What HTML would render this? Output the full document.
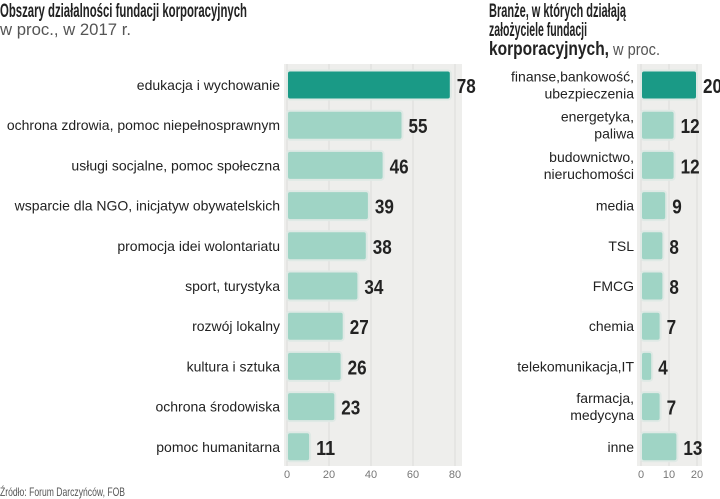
<!DOCTYPE html>
<html><head><meta charset="utf-8"><style>
html,body{margin:0;padding:0;background:#fff;}
svg{display:block;font-family:"Liberation Sans",sans-serif;}
</style></head><body>
<svg id="chart" width="720" height="499" viewBox="0 0 720 499">
<text x="0" y="17" font-size="19" font-weight="bold" fill="#222" textLength="247" lengthAdjust="spacingAndGlyphs">Obszary działalności fundacji korporacyjnych</text>
<text x="0" y="35" font-size="17" fill="#555" textLength="131" lengthAdjust="spacingAndGlyphs">w proc., w 2017 r.</text>
<text x="489" y="17" font-size="19" font-weight="bold" fill="#222" textLength="137" lengthAdjust="spacingAndGlyphs">Branże, w których działają</text>
<text x="489" y="36" font-size="19" font-weight="bold" fill="#222" textLength="98" lengthAdjust="spacingAndGlyphs">założyciele fundacji</text>
<text x="489" y="55" font-size="19" font-weight="bold" fill="#222" textLength="120" lengthAdjust="spacingAndGlyphs">korporacyjnych,</text>
<text x="613" y="55" font-size="17" fill="#555" textLength="47" lengthAdjust="spacingAndGlyphs">w proc.</text>
<g id="left"></g>
<g id="right"></g>
<text x="0" y="496" font-size="12" fill="#555" textLength="125" lengthAdjust="spacingAndGlyphs">Źródło: Forum Darczyńców, FOB</text>
</svg>
<script>
const leftCategories = ["edukacja i wychowanie","ochrona zdrowia, pomoc niepełnosprawnym","usługi socjalne, pomoc społeczna","wsparcie dla NGO, inicjatyw obywatelskich","promocja idei wolontariatu","sport, turystyka","rozwój lokalny","kultura i sztuka","ochrona środowiska","pomoc humanitarna"];
const leftValues = [78,55,46,39,38,34,27,26,23,11];
const leftTicks = [0,20,40,60,80];
const rightCategories = [["finanse,bankowość,","ubezpieczenia"],["energetyka,","paliwa"],["budownictwo,","nieruchomości"],["media"],["TSL"],["FMCG"],["chemia"],["telekomunikacja,IT"],["farmacja,","medycyna"],["inne"]];
const rightValues = [20,12,12,9,8,8,7,4,7,13];
const rightTicks = [0,10,20];
const NS="http://www.w3.org/2000/svg";
function mk(p,tag,attrs,txt){const e=document.createElementNS(NS,tag);for(const k in attrs)e.setAttribute(k,attrs[k]);if(txt!==undefined)e.textContent=txt;p.appendChild(e);return e;}
function draw(g,cats,vals,ticks,x0,x1,max,bgL,bgR,prefix){
  const sx=v=>x0+v*(x1-x0)/max;
  const top=64,rowH=40.2,bh=29;
  const bg=mk(g,"rect",{x:bgL,y:top,width:bgR-bgL,height:402,fill:"#eeeeec"});
  
  
  ticks.forEach(t=>{
    const l=mk(g,"line",{x1:sx(t),x2:sx(t),y1:top,y2:466,stroke:"#dcdcda","stroke-width":1});
    
    
    const tx=mk(g,"text",{x:sx(t),y:478,"font-size":11,fill:"#777","text-anchor":"middle"},String(t));
    
    
  });
  vals.forEach((v,i)=>{
    const cy=top+21+i*rowH;
    const r=mk(g,"rect",{x:x0,y:cy-bh/2,width:Math.max(sx(v)-x0,1),height:bh,rx:3,fill:i===0?"#1a9a86":"#9fd4c5",stroke:"#dfe9e5","stroke-width":2});
    
    
    const s=String(v);
    const vt=mk(g,"text",{x:sx(v)+6,y:cy+8,"font-size":20,"font-weight":"bold",fill:"#222",textLength:9.5*s.length,lengthAdjust:"spacingAndGlyphs"},s);
    
    
    const c=Array.isArray(cats[i])?cats[i]:[cats[i]];
    c.forEach((line,j)=>{
      const y=cy+5+(j-(c.length-1)/2)*17;
      const ct=mk(g,"text",{x:x0-7,y:y,"font-size":14,fill:"#222","text-anchor":"end"},line);
      
      
    });
  });
}
draw(document.getElementById("left"),leftCategories,leftValues,leftTicks,287,455,80,284,462,"left");
draw(document.getElementById("right"),rightCategories,rightValues,rightTicks,641,697,20,637,702,"right");
</script>
</body></html>
